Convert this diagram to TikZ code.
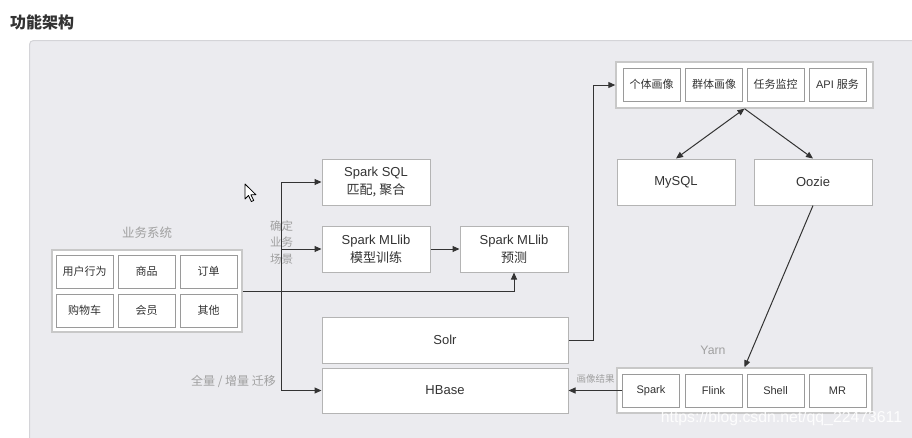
\documentclass[tikz,border=0pt]{standalone}
\usepackage{fontspec}
\setmainfont{Liberation Sans}
\newfontfamily\cjk{Noto Sans CJK SC}
\usetikzlibrary{arrows.meta}
\definecolor{panel}{HTML}{EBEBEF}
\definecolor{panelborder}{HTML}{D4D4D8}
\definecolor{boxgray}{HTML}{B4B4B4}
\definecolor{grpgray}{HTML}{C8C8C8}
\definecolor{cellgray}{HTML}{9A9A9A}
\definecolor{txt}{HTML}{333333}
\definecolor{lblgray}{HTML}{A0A0A0}
\definecolor{linec}{HTML}{333333}
\begin{document}
\begin{tikzpicture}[x=1pt,y=-1pt,
  box/.style={draw=boxgray,line width=1pt,fill=white,inner sep=0pt,text=txt},
  grp/.style={draw=grpgray,line width=1.4pt,fill=white,inner sep=0pt},
  cell/.style={box,draw=cellgray,minimum width=57pt,minimum height=33pt,font=\fontsize{11}{13}\selectfont},
  big/.style={box,minimum height=46pt,font=\fontsize{13}{18}\selectfont,align=center},
  lbl/.style={text=lblgray,inner sep=0pt},
  tip/.style={Triangle[length=7pt,width=6pt]},
  arr/.style={draw=linec,line width=1pt,-{Triangle[length=7pt,width=6pt]}},
]
\useasboundingbox (0,0) rectangle (912,437);
\fill[white] (0,0) rectangle (912,437);
\draw[draw=panelborder,fill=panel,rounded corners=4pt,line width=1pt] (29.5,40.5) rectangle (940,460);

\node[anchor=west,inner sep=0pt,text=txt,font=\fontsize{16}{18}\selectfont\cjk\bfseries] (title) at (10,22) {功能架构};

% business system
\node[grp,minimum width=190pt,minimum height=82pt] (biz) at (147,291) {};
\node[cell] (c11) at (84.5,271.5) {\cjk 用户行为};
\node[cell] (c12) at (146.5,271.5) {\cjk 商品};
\node[cell] (c13) at (208.5,271.5) {\cjk 订单};
\node[cell] (c21) at (84.5,310.5) {\cjk 购物车};
\node[cell] (c22) at (146.5,310.5) {\cjk 会员};
\node[cell] (c23) at (208.5,310.5) {\cjk 其他};
\node[lbl,font=\fontsize{12.5}{14}\selectfont\cjk] (bizl) at (147,233) {业务系统};

% spark boxes
\node[big,minimum width=108pt] (sql) at (376,182) {Spark SQL\\{\cjk 匹配, 聚合}};
\node[big,minimum width=108pt] (ml) at (376,249) {Spark MLlib\\{\cjk 模型训练}};
\node[big,minimum width=108pt] (pred) at (514,249) {Spark MLlib\\{\cjk 预测}};
\node[big,minimum width=246pt] (solr) at (445,340) {Solr};
\node[big,minimum width=246pt,minimum height=45pt] (hbase) at (445,390.5) {HBase};

% top group
\node[grp,minimum width=257pt,minimum height=46pt] (topg) at (744.5,85) {};
\node[cell] (t1) at (651.5,84.5) {\cjk 个体画像};
\node[cell] (t2) at (714,84.5) {\cjk 群体画像};
\node[cell] (t3) at (775.5,84.5) {\cjk 任务监控};
\node[cell] (t4) at (837.5,84.5) {API {\cjk 服务}};

\node[big,minimum width=118pt] (mysql) at (676,182) {MySQL};
\node[big,minimum width=118pt] (oozie) at (813,182) {Oozie};

% yarn group
\node[grp,minimum width=255pt,minimum height=45pt] (yarn) at (744.5,390.5) {};
\node[cell] (ys) at (651,390.5) {Spark};
\node[cell] (yf) at (713.5,390.5) {Flink};
\node[cell] (yh) at (775.5,390.5) {Shell};
\node[cell] (ym) at (837.5,390.5) {MR};
\node[lbl,font=\fontsize{12.3}{14}\selectfont] (yarnl) at (713,350) {Yarn};

% connectors
\coordinate (tk) at (281,0);
\coordinate (rk) at (593,0);
\draw[arr] (tk|-sql.west) -- (sql.west);
\draw[arr] (tk|-sql.west) |- (hbase.west);
\draw[arr] (tk|-ml.west) -- (ml.west);
\draw[arr] (biz.east) -| (pred.south);
\draw[arr] (ml.east) -- (pred.west);
\draw[arr] (solr.east) -| (rk|-topg.west) -- (topg.west);
\draw[draw=linec,line width=1pt,{Triangle[length=7pt,width=6pt]}-{Triangle[length=7pt,width=6pt]}] (topg.south) -- (mysql.north);
\draw[arr] (topg.south) -- (oozie.north);
\draw[arr] (oozie.south) -- (yarn.north);
\draw[arr] (ys.west) -- (hbase.east);

% labels on connectors
\node[lbl,align=center,font=\fontsize{11.5}{16.5}\selectfont\cjk] (scen) at (281.5,242.5) {确定\\业务\\场景};
\node[lbl,font=\fontsize{12}{14}\selectfont\cjk] (mig) at (233.5,381) {全量 / 增量 迁移};
\node[lbl,font=\fontsize{9.5}{11}\selectfont\cjk] (res) at (595.5,379) {画像结果};

% watermark
\node[inner sep=0pt,text=white,opacity=0.9,font=\fontsize{15.8}{18}\selectfont] (wm) at (781.5,418) {https://blog.csdn.net/qq\_22473611};

% mouse cursor
\draw[fill=white,draw=black,line width=0.8pt,line join=round] (245,184) -- ++(0,15) -- ++(3.5,-3.5) -- ++(2.8,6) -- ++(2.4,-1) -- ++(-2.8,-5.8) -- ++(5,0) -- cycle;
\end{tikzpicture}
\end{document}
